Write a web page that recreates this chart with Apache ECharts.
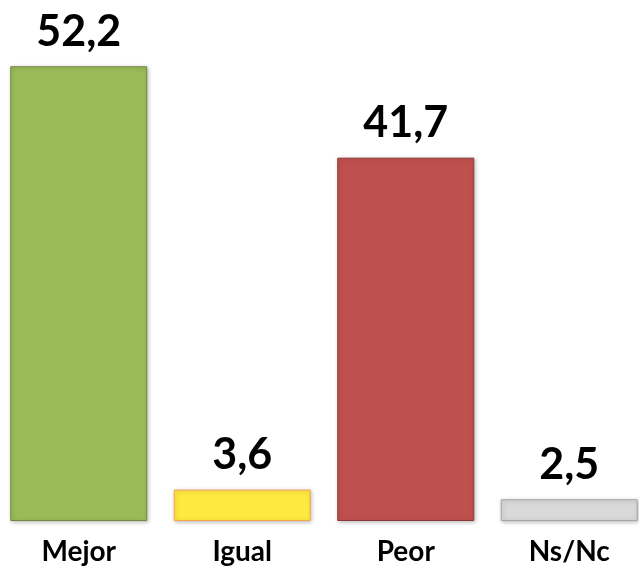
<!DOCTYPE html>
<html>
<head>
<meta charset="utf-8">
<script src="https://cdn.jsdelivr.net/npm/echarts@6/dist/echarts.min.js"></script>
<style>
  html, body { margin: 0; padding: 0; background: #fff; overflow: hidden; }
  #main { width: 654px; height: 567px; margin-left: -3px; }
</style>
</head>
<body>
<div id="main"></div>
<script>
var categories = ['Mejor', 'Igual', 'Peor', 'Ns/Nc'];
var values = [52.2, 3.6, 41.7, 2.5];
var fillColors = ['#9BBB59', '#FFE940', '#C0504D', '#D9D9D9'];
var borderColors = ['#71893F', '#F5A54A', '#8C3A38', '#A6A6A6'];

var chart = echarts.init(document.getElementById('main'));

var data = values.map(function (v, i) {
    return {
        value: v,
        itemStyle: {
            color: fillColors[i],
            borderColor: borderColors[i],
            borderWidth: 1,
            shadowColor: 'rgba(0,0,0,0.25)',
            shadowBlur: 4,
            shadowOffsetX: 1,
            shadowOffsetY: 1
        }
    };
});

chart.setOption({
    animation: false,
    grid: {left: 0, right: 0, top: 0, bottom: 46, containLabel: false},
    xAxis: {
        type: 'category',
        data: categories,
        axisLine: {show: false},
        axisTick: {show: false},
        axisLabel: {
            margin: 17,
            color: '#000',
            fontFamily: 'Lato',
            fontWeight: 'bold',
            fontSize: 28
        }
    },
    yAxis: {
        type: 'value',
        min: 0,
        max: 59.8,
        show: false,
        splitLine: {show: false}
    },
    series: [{
        type: 'bar',
        data: data,
        barWidth: 137,
        label: {
            show: true,
            position: 'top',
            distance: 13,
            color: '#000',
            fontFamily: 'Lato',
            fontWeight: 'bold',
            fontSize: 43,
            formatter: function (p) {
                return String(p.value).replace('.', ',');
            }
        }
    }]
});
</script>
</body>
</html>
